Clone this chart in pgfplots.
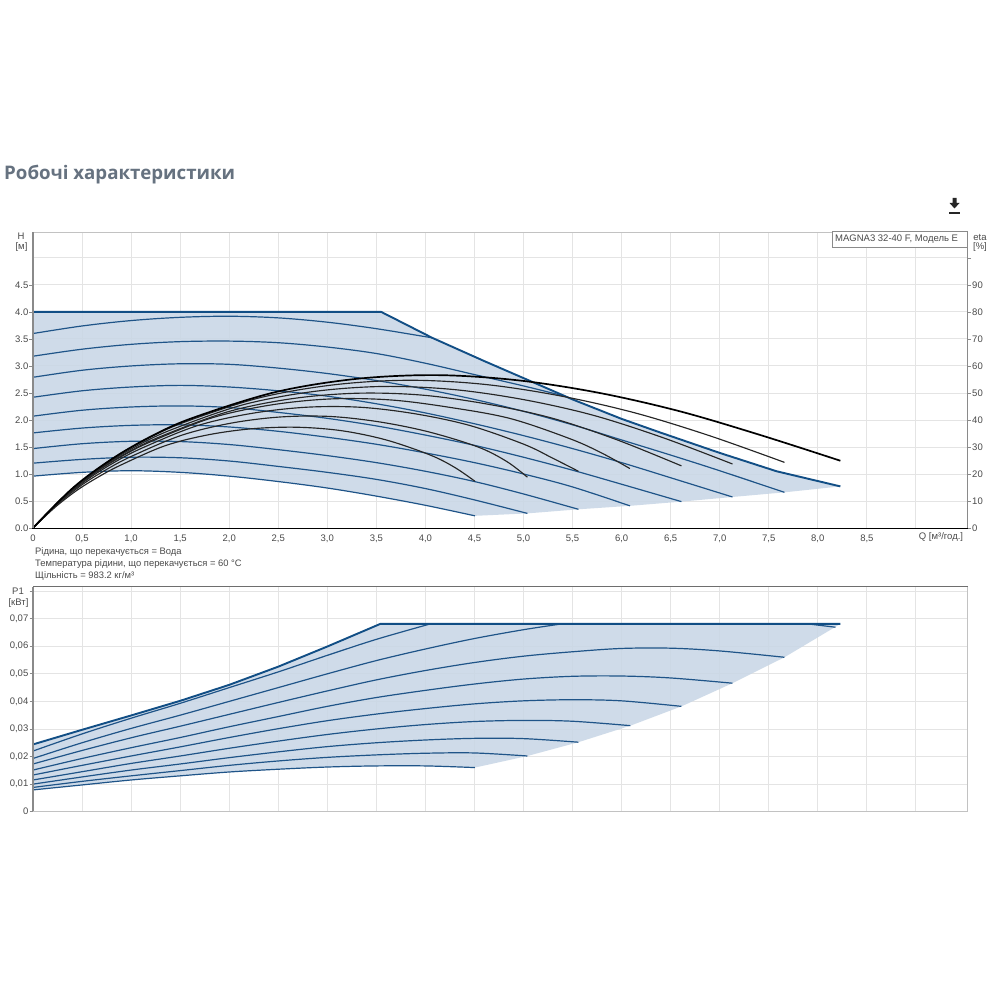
\documentclass[border=0pt]{standalone}
\usepackage{fontspec}
\setmainfont{Liberation Sans}
\newfontfamily\titlefont{Open Sans}
\usepackage{pgfplots}
\pgfplotsset{compat=1.18}
\definecolor{gridc}{HTML}{E4E4E4}
\definecolor{areac}{HTML}{C9D7E6}
\definecolor{bluec}{HTML}{1F5488}
\definecolor{edgec}{HTML}{114E85}
\definecolor{txtc}{HTML}{4A4A4A}
\definecolor{axc}{HTML}{8A8A8A}
\definecolor{titlec}{HTML}{667280}
\pgfplotsset{
  base/.style={scale only axis, width=934.5pt, xmin=0, xmax=9.526,
    axis line style={draw=none}, tick align=outside, major tick length=3.5pt,
    tick label style={font=\fontsize{9.5}{11}\selectfont, text=txtc, inner sep=1pt},
    /pgf/number format/assume math mode=true,
    clip=true},
  blue/.style={no markers, smooth, tension=0.55, draw=bluec, line width=1.2pt},
  edge/.style={no markers, draw=edgec, line width=1.9pt, line join=round},
  blk/.style={no markers, smooth, tension=0.55, draw=black!85, line width=1.15pt},
}
\begin{document}
\begin{tikzpicture}
\path[use as bounding box, fill=white] (0,0) rectangle (1000pt,1000pt);

% ---------- upper chart: H
\begin{axis}[base, at={(33pt,472pt)}, anchor=south west, height=296pt,
  ymin=0, ymax=5.48, tick pos=left,
  xtick={0,0.5,...,9}, ytick={0,0.5,...,4.5},
  extra y ticks={5,5.5}, extra y tick labels={,},
  extra y tick style={major tick length=0pt, grid=major},
  xticklabels={0,{0,5},{1,0},{1,5},{2,0},{2,5},{3,0},{3,5},{4,0},{4,5},{5,0},{5,5},{6,0},{6,5},{7,0},{7,5},{8,0},{8,5},{}},
  yticklabels={0.0,0.5,1.0,1.5,2.0,2.5,3.0,3.5,4.0,4.5},
  grid=major, grid style={gridc, line width=0.9pt},
  xtick style={draw=none}, ytick style={draw=axc, line width=0.8pt},
  xticklabel style={yshift=-2pt}]
\addplot[draw=none, fill=areac, fill opacity=0.88] coordinates {
 (0,4) (3.55,4) (4.07,3.52) (4.6,3.09) (5.07,2.72) (5.5,2.38) (6,2.02) (6.39,1.77) (7,1.39) (7.58,1.05) (8.23,0.77)
 (7.66,0.66) (7.13,0.574) (6.61,0.488) (6.085,0.41) (5.56,0.346) (5.04,0.27) (4.505,0.225)
 (4,0.42) (3.5,0.59) (3,0.74) (2.5,0.86) (2,0.96) (1.5,1.03) (1,1.06) (0.5,1.03) (0,0.96)} -- cycle;
\addplot[blue] coordinates {(0,3.60) (0.5,3.74) (1,3.84) (1.5,3.90) (2,3.92) (2.5,3.89) (3,3.81) (3.5,3.69) (4.07,3.52)};
\addplot[blue] coordinates {(0,3.18) (0.5,3.31) (1,3.40) (1.5,3.45) (2,3.46) (2.5,3.43) (3,3.35) (3.5,3.23) (4,3.05) (4.5,2.84) (5,2.63) (5.4,2.45)};
\addplot[blue] coordinates {(0,2.79) (0.5,2.92) (1,3.00) (1.5,3.04) (2,3.03) (2.5,2.96) (3,2.86) (3.5,2.73) (4,2.57) (4.5,2.38) (5,2.16) (5.5,1.91) (6,1.63) (6.5,1.35) (7,1.06) (7.66,0.66)};
\addplot[blue] coordinates {(0,2.42) (0.5,2.54) (1,2.61) (1.5,2.64) (2,2.61) (2.5,2.54) (3,2.44) (3.5,2.30) (4,2.13) (4.5,1.93) (5,1.71) (5.5,1.47) (6,1.21) (6.5,0.93) (7.13,0.574)};
\addplot[blue] coordinates {(0,2.07) (0.5,2.18) (1,2.24) (1.5,2.26) (2,2.23) (2.5,2.14) (3,2.03) (3.5,1.89) (4,1.72) (4.5,1.53) (5,1.31) (5.5,1.07) (6,0.81) (6.61,0.488)};
\addplot[blue] coordinates {(0,1.76) (0.5,1.85) (1,1.90) (1.5,1.91) (2,1.87) (2.5,1.79) (3,1.68) (3.5,1.55) (4,1.39) (4.5,1.21) (5,1.00) (5.5,0.76) (6.085,0.41)};
\addplot[blue] coordinates {(0,1.47) (0.5,1.56) (1,1.605) (1.5,1.60) (2,1.545) (2.5,1.45) (3,1.34) (3.5,1.21) (4,1.05) (4.5,0.86) (5,0.63) (5.56,0.346)};
\addplot[blue] coordinates {(0,1.20) (0.5,1.27) (1,1.31) (1.5,1.30) (2,1.24) (2.5,1.14) (3,1.03) (3.5,0.90) (4,0.73) (4.5,0.52) (5.04,0.27)};
\addplot[blue] coordinates {(0,0.96) (0.5,1.03) (1,1.06) (1.5,1.03) (2,0.96) (2.5,0.86) (3,0.74) (3.5,0.59) (4,0.42) (4.505,0.225)};
\addplot[edge] coordinates {(0,4) (3.55,4) (4.07,3.52) (4.6,3.09) (5.07,2.72) (5.5,2.38) (6,2.02) (6.39,1.77) (7,1.39) (7.58,1.05) (8.23,0.77)};
\end{axis}

% ---------- upper chart: eta
\begin{axis}[base, at={(33pt,472pt)}, anchor=south west, height=296pt,
  ymin=0, ymax=109.6, axis y line*=right, axis x line=none,
  xtick=\empty, ytick={0,10,...,100},
  yticklabels={0,10,20,30,40,50,60,70,80,90,{}},
  ytick style={draw=axc, line width=0.8pt}]
\addplot[blk] coordinates {(0,0) (0.225,7.67) (0.45,14.0) (0.676,19.1) (0.901,23.4) (1.35,30.5) (1.80,34.6) (2.25,36.8) (2.70,37.3) (3.15,36.0) (3.60,32.6) (4.05,27.0) (4.3,22.4) (4.505,17.3)};
\addplot[blk] coordinates {(0,0) (0.252,8.9) (0.504,16.1) (0.756,21.8) (1.008,26.6) (1.512,34.3) (2.016,38.8) (2.52,41.1) (3.024,41.3) (3.528,39.3) (4.032,35.6) (4.536,30.0) (4.83,24.6) (5.04,18.8)};
\addplot[blk] coordinates {(0,0) (0.278,10.0) (0.556,18.0) (0.834,24.4) (1.112,29.6) (1.668,37.8) (2.224,42.4) (2.78,44.7) (3.336,44.7) (3.892,42.3) (4.448,38.0) (5.004,31.0) (5.3,25.8) (5.56,21.0)};
\addplot[blk] coordinates {(0,0) (0.304,11.1) (0.609,19.8) (0.913,26.7) (1.217,32.2) (1.826,40.8) (2.434,45.6) (3.043,47.8) (3.651,47.4) (4.26,44.6) (4.868,40.5) (5.477,33.0) (5.8,27.7) (6.085,22.0)};
\addplot[blk] coordinates {(0,0) (0.33,12.0) (0.661,21.3) (0.992,28.5) (1.322,34.2) (1.983,43.0) (2.644,47.9) (3.305,49.9) (3.966,49.2) (4.627,45.9) (5.288,40.7) (5.949,32.7) (6.61,23.0)};
\addplot[blk] coordinates {(0,0) (0.357,13.0) (0.713,22.9) (1.07,30.6) (1.426,36.6) (2.139,45.6) (2.852,50.5) (3.565,52.4) (4.278,51.3) (4.991,47.6) (5.704,41.8) (6.417,33.5) (7.13,23.7)};
\addplot[blk] coordinates {(0,0) (0.383,14.0) (0.766,24.6) (1.149,32.7) (1.532,39.0) (2.298,48.1) (3.064,53.0) (3.83,54.7) (4.596,53.2) (5.362,49.0) (6.128,42.7) (6.894,34.2) (7.66,24.3)};
\addplot[blk, draw=black, line width=1.7pt] coordinates {(0,0) (0.4115,15.0) (0.823,26.0) (1.2345,34.5) (1.646,41.0) (2.469,50.3) (3.292,55.2) (4.115,56.6) (4.938,54.7) (5.761,50.1) (6.584,43.3) (7.407,34.5) (8.23,24.9)};
\end{axis}

% ---------- lower chart: P1
\begin{axis}[base, at={(33pt,188.3pt)}, anchor=south west, height=225pt,
  ymin=0, ymax=0.0816, tick pos=left, scaled y ticks=false,
  xtick={0,0.5,...,9}, xticklabels={},
  ytick={0,0.01,0.02,0.03,0.04,0.05,0.06,0.07,0.08},
  yticklabels={0,{0,01},{0,02},{0,03},{0,04},{0,05},{0,06},{0,07},{}},
  grid=major, grid style={gridc, line width=0.9pt},
  xtick style={draw=none}, ytick style={draw=axc, line width=0.8pt}]
\addplot[draw=none, fill=areac, fill opacity=0.88] coordinates {
 (0,0.0244) (0.5,0.0297) (1,0.0349) (1.5,0.0402) (2,0.0460) (2.5,0.0526) (3,0.0599) (3.54,0.0681) (8.23,0.0681)
 (7.66,0.0560) (7.13,0.0466) (6.61,0.0382) (6.09,0.0312) (5.56,0.0252) (5.04,0.0202) (4.505,0.016)
 (4,0.0166) (3.5,0.0166) (3,0.0162) (2.5,0.0154) (2,0.0144) (1.5,0.013) (1,0.0115) (0.5,0.0097) (0,0.0079)} -- cycle;
\addplot[blue] coordinates {(0,0.0220) (0.5,0.0282) (1,0.0339) (1.5,0.0393) (2,0.0450) (2.5,0.0507) (3,0.0567) (3.5,0.0625) (4.03,0.0679)};
\addplot[blue] coordinates {(0,0.0193) (0.5,0.0250) (1,0.0302) (1.5,0.0350) (2,0.0400) (2.5,0.0450) (3,0.0500) (3.5,0.0548) (4,0.0590) (4.5,0.0628) (5,0.0660) (5.37,0.0680)};
\addplot[blue] coordinates {(0,0.0173) (0.5,0.0222) (1,0.0268) (1.5,0.0310) (2,0.0353) (2.5,0.0396) (3,0.0438) (3.5,0.0478) (4,0.0512) (4.5,0.0541) (5,0.0564) (5.5,0.0580) (6,0.0592) (6.5,0.0593) (7,0.0583) (7.66,0.0560)};
\addplot[blue] coordinates {(0,0.0151) (0.5,0.0193) (1,0.0232) (1.5,0.0269) (2,0.0308) (2.5,0.0345) (3,0.0382) (3.5,0.0414) (4,0.0440) (4.5,0.0463) (5,0.0481) (5.5,0.0491) (6,0.0492) (6.5,0.0485) (7.13,0.0466)};
\addplot[blue] coordinates {(0,0.0133) (0.5,0.0168) (1,0.0202) (1.5,0.0235) (2,0.0269) (2.5,0.0301) (3,0.0330) (3.5,0.0354) (4,0.0374) (4.5,0.0391) (5,0.0402) (5.5,0.0406) (6,0.0402) (6.61,0.0382)};
\addplot[blue] coordinates {(0,0.0115) (0.5,0.0145) (1,0.0175) (1.5,0.0202) (2,0.0230) (2.5,0.0256) (3,0.0280) (3.5,0.0300) (4,0.0316) (4.5,0.0327) (5,0.0331) (5.5,0.0328) (6.09,0.0312)};
\addplot[blue] coordinates {(0,0.0100) (0.5,0.0126) (1,0.0151) (1.5,0.0173) (2,0.0196) (2.5,0.0217) (3,0.0236) (3.5,0.0250) (4,0.0260) (4.5,0.0266) (5,0.0265) (5.56,0.0252)};
\addplot[blue] coordinates {(0,0.0088) (0.5,0.0110) (1,0.0130) (1.5,0.0149) (2,0.0168) (2.5,0.0184) (3,0.0197) (3.5,0.0206) (4,0.0212) (4.5,0.0213) (5.04,0.0202)};
\addplot[blue] coordinates {(0,0.0079) (0.5,0.0097) (1,0.0115) (1.5,0.0130) (2,0.0144) (2.5,0.0154) (3,0.0162) (3.5,0.0166) (4,0.0166) (4.505,0.0160)};
\addplot[no markers, draw=bluec, line width=1.2pt] coordinates {(7.9,0.0681) (8.18,0.0669)};
\addplot[edge] coordinates {(0,0.0244) (0.5,0.0297) (1,0.0349) (1.5,0.0402) (2,0.0460) (2.5,0.0526) (3,0.0599) (3.54,0.0681) (8.23,0.0681)};
\end{axis}

% ---------- frames
\draw[gridc!85!black, line width=0.9pt] (33pt,768pt) -- (967.5pt,768pt);
\draw[axc, line width=1.7pt] (33pt,472pt) -- (33pt,768pt);
\draw[axc, line width=1.7pt] (967.5pt,472pt) -- (967.5pt,768pt);
\draw[black, line width=0.9pt] (32pt,472pt) -- (968pt,472pt);
\draw[axc!80!black, line width=0.9pt] (33pt,413.3pt) -- (968pt,413.3pt);
\draw[axc, line width=1.5pt] (33pt,188.3pt) -- (33pt,413.3pt);
\draw[gridc!85!black, line width=0.9pt] (967.5pt,188.3pt) -- (967.5pt,413.3pt);
\draw[gridc!85!black, line width=1.2pt] (33pt,188.3pt) -- (968pt,188.3pt);

% ---------- texts
\node[anchor=west, inner sep=0pt, text=titlec] at (4pt,825.5pt) {\titlefont\bfseries\fontsize{18.7}{22}\selectfont Робочі характеристики};
\draw[fill=white, draw=axc, line width=0.9pt] (832pt,753pt) rectangle (967.5pt,768.5pt);
\node[anchor=west, inner sep=0pt, text=txtc, font=\fontsize{9.5}{11}\selectfont] at (835pt,761pt) {MAGNA3 32-40 F, Модель E};
\node[inner sep=0pt, text=txtc, font=\fontsize{9.5}{11}\selectfont] at (21pt,764pt) {H};
\node[inner sep=0pt, text=txtc, font=\fontsize{9.5}{11}\selectfont] at (21.5pt,753pt) {[м]};
\node[inner sep=0pt, text=txtc, font=\fontsize{9.5}{11}\selectfont] at (980pt,763pt) {eta};
\node[inner sep=0pt, text=txtc, font=\fontsize{9.5}{11}\selectfont] at (980pt,753pt) {[\%]};
\node[inner sep=0pt, text=txtc, font=\fontsize{9.5}{11}\selectfont] at (941pt,462.5pt) {Q [м³/год.]};
\node[inner sep=0pt, text=txtc, font=\fontsize{9.5}{11}\selectfont] at (18pt,409pt) {P1};
\node[inner sep=0pt, text=txtc, font=\fontsize{9.5}{11}\selectfont] at (18.5pt,397pt) {[кВт]};
\node[anchor=west, inner sep=0pt, text=txtc, font=\fontsize{9.4}{11}\selectfont] at (35pt,447.5pt) {Рідина, що перекачується = Вода};
\node[anchor=west, inner sep=0pt, text=txtc, font=\fontsize{9.4}{11}\selectfont] at (35pt,435.5pt) {Температура рідини, що перекачується = 60 °C};
\node[anchor=west, inner sep=0pt, text=txtc, font=\fontsize{9.4}{11}\selectfont] at (35pt,423.5pt) {Щільність = 983.2 кг/м³};
% download icon
\fill[black!85] (952.5pt,802pt) -- (956.5pt,802pt) -- (956.5pt,797pt) -- (959.5pt,797pt) -- (954.5pt,791.5pt) -- (949.5pt,797pt) -- (952.5pt,797pt) -- cycle;
\fill[black!85] (949pt,786pt) rectangle (960pt,788pt);
\end{tikzpicture}
\end{document}
